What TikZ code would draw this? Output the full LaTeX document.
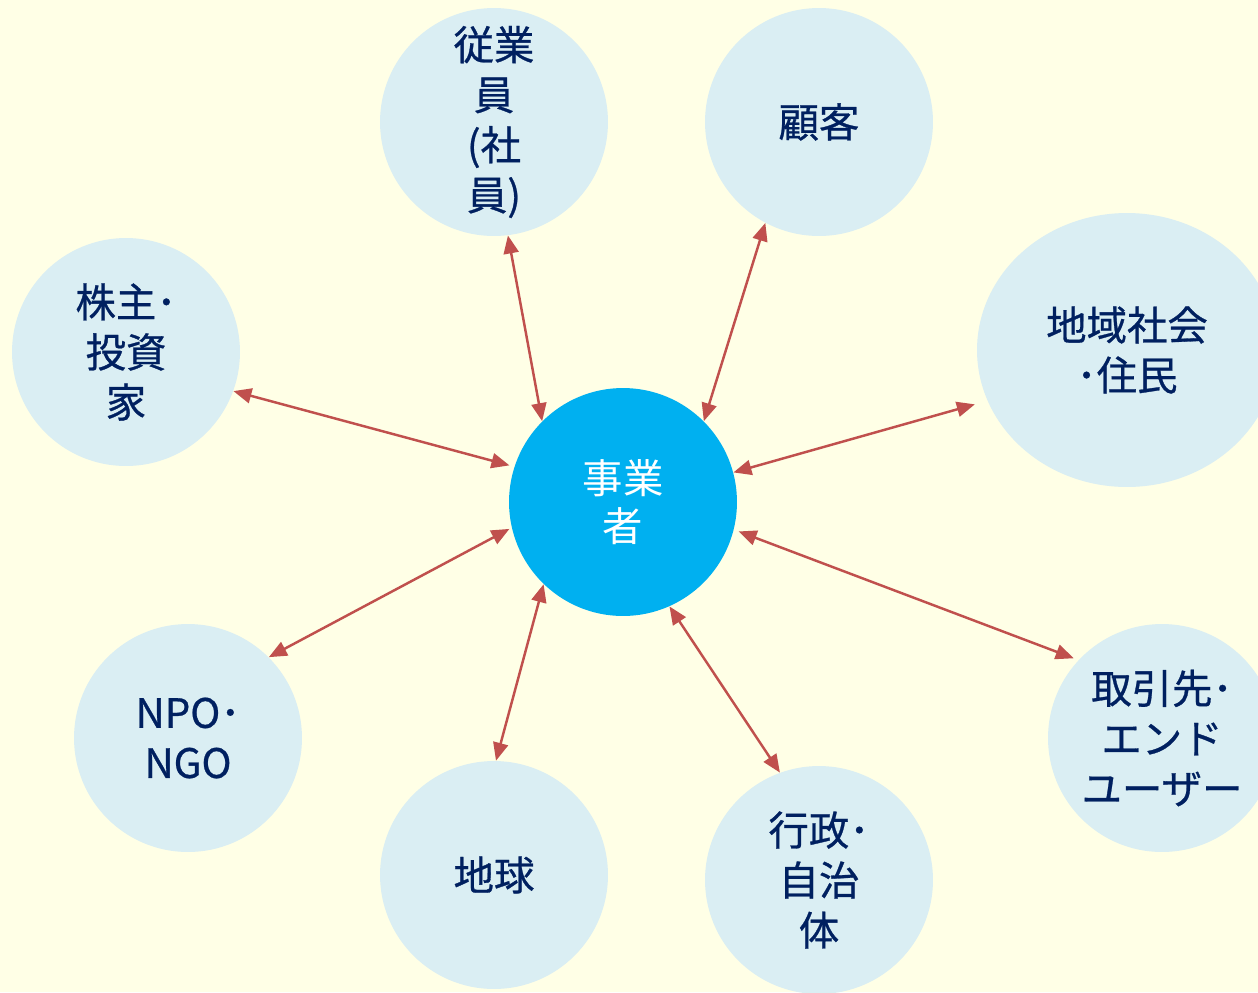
\documentclass[tikz,border=0pt]{standalone}
\usepackage{fontspec}
\newfontfamily\jp{Noto Sans CJK JP}
\newfontfamily\jpb[FakeBold=0.7]{Noto Sans CJK JP}
\usetikzlibrary{arrows.meta,shapes.geometric}
\definecolor{bg}{RGB}{255,255,230}
\definecolor{lb}{RGB}{218,238,243}
\definecolor{hubc}{RGB}{0,176,240}
\definecolor{navy}{RGB}{0,32,96}
\definecolor{arr}{RGB}{192,80,77}
\begin{document}
\begin{tikzpicture}[x=0.02cm,y=-0.02cm,
  party/.style={circle,fill=lb,minimum size=4.56cm,inner sep=0pt,align=center,text=navy,
    font=\jpb\fontsize{23}{28.5}\selectfont},
  hubnode/.style={circle,fill=hubc,minimum size=4.56cm,inner sep=0pt,align=center,text=white,
    font=\jp\fontsize{23}{27.5}\selectfont},
  link/.style={draw=arr,line width=1.4pt,
    {Triangle[length=0.36cm,width=0.3cm,fill=arr]}-{Triangle[length=0.36cm,width=0.3cm,fill=arr]}}]
\fill[bg] (0,0) rectangle (1258,992);
\useasboundingbox (0,0) rectangle (1258,992);
\clip (0,0) rectangle (1258,992);
\node[hubnode] (hub) at (623,502) {事業\\者};
\node[party] (emp) at (494,122) {従業\\員\\(社\\員)};
\node[party] (cust) at (819,122) {顧客};
\node[party,ellipse,minimum width=6cm,minimum height=5.48cm] (comm) at (1127,350) {地域社会\\･住民};
\node[party] (trade) at (1162,738) {取引先･\\エンド\\ユーザー};
\node[party] (gov) at (819,880) {行政･\\自治\\体};
\node[party] (earth) at (494,875) {地球};
\node[party] (npo) at (188,738) {NPO･\\NGO};
\node[party] (share) at (126,352) {株主･\\投資\\家};
\draw[link] (emp.-83) -- (hub.135);
\draw[link] (cust.-118) -- (hub.45);
\draw[link,shorten <=0.26cm] (comm.-160) -- (hub.15);
\draw[link,shorten <=0.1cm,shorten >=0.1cm] (trade.137) -- (hub.-14);
\draw[link] (gov.110) -- (hub.-66);
\draw[link] (earth.89) -- (hub.-134);
\draw[link,shorten >=0.05cm] (npo.45) -- (hub.193);
\draw[link,shorten >=0.1cm] (share.-20) -- (hub.162);
\end{tikzpicture}
\end{document}
